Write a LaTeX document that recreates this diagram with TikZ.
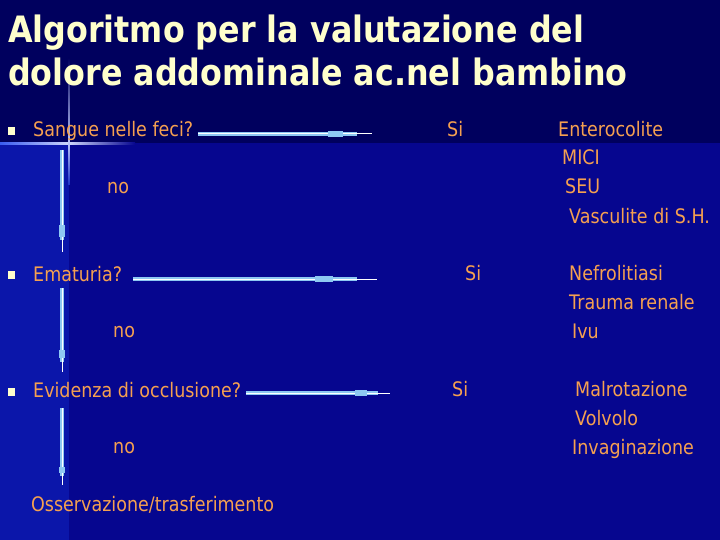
\documentclass[tikz,border=0pt]{standalone}
\usepackage{fontspec}
\usetikzlibrary{calc}
\newfontfamily\bodyfont{DejaVu Sans}[FakeStretch=0.875]
\newfontfamily\titlefont{DejaVu Sans Bold}[FakeStretch=0.875]
\definecolor{topbg}{HTML}{00005E}
\definecolor{lowbg}{HTML}{06068F}
\definecolor{stripbg}{HTML}{0B16AA}
\definecolor{titlecol}{HTML}{FFFFCC}
\definecolor{txtcol}{HTML}{F5A050}
\definecolor{arrowblue}{HTML}{8EC8F2}
\definecolor{glow}{HTML}{3A5CF0}
\tikzset{
  titletxt/.style={anchor=base west, inner sep=0pt, text=titlecol, font=\titlefont\fontsize{36.3}{43}\selectfont},
  txt/.style={anchor=base west, inner sep=0pt, text=txtcol, font=\bodyfont\fontsize{20}{24}\selectfont},
  bulletsq/.style={fill=titlecol, draw=none, minimum size=7.5pt, inner sep=0pt},
  shaft/.style={draw=arrowblue, line width=3.4pt},
  core/.style={draw=white, line width=1pt},
  blockpart/.style={draw=arrowblue, line width=6.5pt},
}
% #1 start, #2 end, #3 block far distance, #4 block near distance, #5 shaft end distance
\newcommand\flowarrow[5]{%
  \draw[shaft] (#1) -- ($(#2)!#5pt!(#1)$);
  \draw[core] (#1) -- (#2);
  \draw[blockpart] ($(#2)!#3pt!(#1)$) -- ($(#2)!#4pt!(#1)$);
}
\begin{document}
\begin{tikzpicture}[x=1pt,y=-1pt]
\useasboundingbox (0,0) rectangle (720,540);
% background
\fill[lowbg] (0,143) rectangle (720,540);
\fill[stripbg] (0,143) rectangle (69,540);
\fill[topbg] (0,0) rectangle (720,143);
% sparkle
\shade[left color=glow, right color=white!75!glow] (0,142.2) rectangle (69,144.2);
\shade[left color=white!75!glow, right color=lowbg] (69,142.2) rectangle (135,144.2);
\shade[top color=topbg, bottom color=white!65!glow] (68.2,58) rectangle (69.9,143);
\shade[top color=white!65!glow, bottom color=glow!40!stripbg] (68.2,143) rectangle (69.9,185);

% title
\node[titletxt] (t1) at (8,43) {Algoritmo per la valutazione del};
\node[titletxt] (t2) at (8,86) {dolore addominale ac.nel bambino};

% bullets
\node[bulletsq] (b1) at (11.5,131) {};
\node[bulletsq] (b2) at (11.5,275) {};
\node[bulletsq] (b3) at (11.5,392) {};

% questions
\node[txt] (q1) at (33,137) {Sangue nelle feci?};
\node[txt] (q2) at (33,281) {Ematuria?};
\node[txt] (q3) at (33,397) {Evidenza di occlusione?};
\node[txt] (q4) at (31,511) {Osservazione/trasferimento};

% no labels
\node[txt] (n1) at (107,194) {no};
\node[txt] (n2) at (113,337) {no};
\node[txt] (n3) at (113,453) {no};

% si labels
\node[txt] (s1) at (447,137) {Si};
\node[txt] (s2) at (465,280) {Si};
\node[txt] (s3) at (452,396) {Si};

% outcomes
\node[txt] (r11) at (558,137) {Enterocolite};
\node[txt] (r12) at (562,165) {MICI};
\node[txt] (r13) at (565,194) {SEU};
\node[txt] (r14) at (569,223) {Vasculite di S.H.};
\node[txt] (r21) at (569,280) {Nefrolitiasi};
\node[txt] (r22) at (569,309) {Trauma renale};
\node[txt] (r23) at (572,338) {Ivu};
\node[txt] (r31) at (575,396) {Malrotazione};
\node[txt] (r32) at (575,425) {Volvolo};
\node[txt] (r33) at (572,454) {Invaginazione};

% connector end points
\coordinate (h1s) at (198,134);
\coordinate (h1e) at (372,134);
\coordinate (h2s) at (133,279);
\coordinate (h2e) at (377,279);
\coordinate (h3s) at (246,393);
\coordinate (h3e) at (390,393);
\coordinate (v1s) at (62,150);
\coordinate (v1e) at (62,252);
\coordinate (v2s) at (62,288);
\coordinate (v2e) at (62,372);
\coordinate (v3s) at (62,408);
\coordinate (v3e) at (62,485);

\flowarrow{h1s}{h1e}{44}{29}{15}
\flowarrow{h2s}{h2e}{62}{44}{20}
\flowarrow{h3s}{h3e}{35}{23}{12}
\flowarrow{v1s}{v1e}{27}{15}{12}
\flowarrow{v2s}{v2e}{22}{14}{10}
\flowarrow{v3s}{v3e}{18}{12}{9}
\end{tikzpicture}
\end{document}
